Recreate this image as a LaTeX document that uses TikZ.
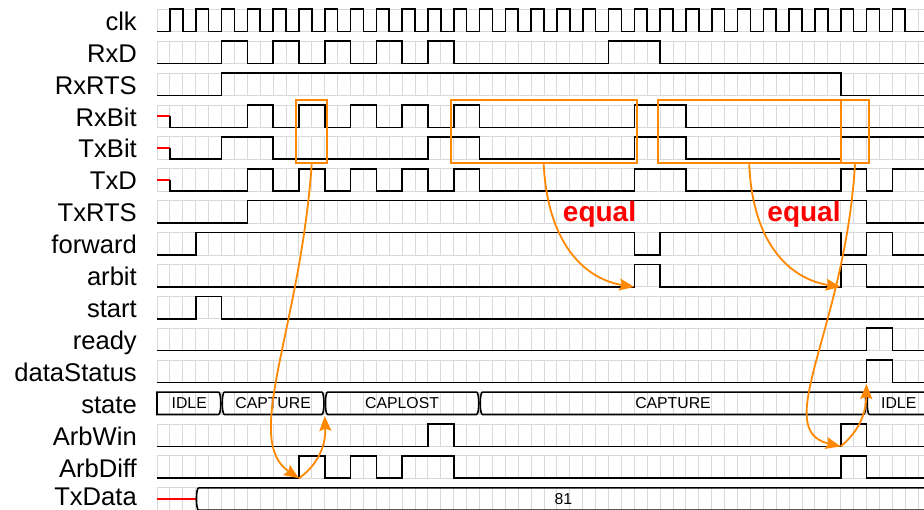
\documentclass[tikz,border=0pt]{standalone}
\usepackage{fontspec}
\setmainfont{Liberation Sans}
\usetikzlibrary{arrows.meta}
\definecolor{hlorange}{RGB}{255,136,0}

\begin{document}
\begin{tikzpicture}[x=1pt, y=-1pt,
  row/.style={shift={(157,{31.7+31.9*#1})}, x=12.9pt, y=22.4pt},
  lbl/.style={anchor=base east, inner sep=0pt, font=\fontsize{25.6}{28}\selectfont},
  gridline/.style={gray!30, line width=0.9pt},
  sig/.style={line width=1.6pt},
  xsig/.style={red, line width=1.6pt},
  bus/.style={line width=1.6pt},
  buslbl/.style={inner sep=0pt, font=\fontsize{15.8}{18}\selectfont},
  hl/.style={draw=hlorange, line width=1.8pt, inner sep=0pt, minimum height=63.3pt},
  arr/.style={hlorange, line width=1.8pt, -{Stealth[length=15pt, width=12pt, inset=2.5pt]}},
  eqlbl/.style={anchor=base, inner sep=0pt, text=red, font=\fontsize{28}{30}\selectfont\bfseries},
]
\useasboundingbox (0,0) rectangle (924,510);
\clip (0,0) rectangle (924,510);

\foreach \r in {0,...,15}{
  \begin{scope}[row=\r]
    \draw[gridline] (0,0) -- (60,0) (0,1) -- (60,1);
    \foreach \s in {0,...,59} \draw[gridline] (\s,0) -- (\s,1);
  \end{scope}
}

\foreach \name [count=\r from 0] in {clk,RxD,RxRTS,RxBit,TxBit,TxD,TxRTS,forward,arbit,start,ready,dataStatus,state,ArbWin,ArbDiff,TxData}
  \node[lbl] (lab-\name) at (137,{30.4+31.9*\r-3*(\r==15)}) {\name};

\begin{scope}[row=0]
  \draw[sig] (0,0) \foreach \i in {1,3,...,57} { -| (\i,1) -| (\i+1,0) } -- (60,0);
\end{scope}
\begin{scope}[row=1]
  \draw[sig] (0,0) -| (5,1) -| (7,0) -| (9,1) -| (11,0) -| (13,1) -| (15,0) -| (17,1) -| (19,0)
    -| (21,1) -| (23,0) -| (35,1) -| (39,0) -- (60,0);
\end{scope}
\begin{scope}[row=2]
  \draw[sig] (0,0) -| (5,1) -| (53,0) -- (60,0);
\end{scope}
\begin{scope}[row=3]
  \draw[xsig] (0,.5) -- (1,.5);
  \draw[sig] (1,.5) -- (1,0) -| (7,1) -| (9,0) -| (11,1) -| (13,0) -| (15,1) -| (17,0) -| (19,1)
    -| (21,0) -| (23,1) -| (25,0) -| (37,1) -| (41,0) -- (60,0);
\end{scope}
\begin{scope}[row=4]
  \draw[xsig] (0,.5) -- (1,.5);
  \draw[sig] (1,.5) -- (1,0) -| (5,1) -| (9,0) -| (21,1) -| (25,0) -| (37,1) -| (41,0) -| (53,1) -- (60,1);
\end{scope}
\begin{scope}[row=5]
  \draw[xsig] (0,.5) -- (1,.5);
  \draw[sig] (1,.5) -- (1,0) -| (7,1) -| (9,0) -| (11,1) -| (13,0) -| (15,1) -| (17,0) -| (19,1)
    -| (21,0) -| (23,1) -| (25,0) -| (37,1) -| (41,0) -| (53,1) -| (55,0) -| (57,1) -- (60,1);
\end{scope}
\begin{scope}[row=6]
  \draw[sig] (0,0) -| (7,1) -| (55,0) -- (60,0);
\end{scope}
\begin{scope}[row=7]
  \draw[sig] (0,0) -| (3,1) -| (37,0) -| (39,1) -| (53,0) -| (55,1) -| (57,0) -- (60,0);
\end{scope}
\begin{scope}[row=8]
  \draw[sig] (0,0) -| (37,1) -| (39,0) -| (53,1) -| (55,0) -- (60,0);
\end{scope}
\begin{scope}[row=9]
  \draw[sig] (0,0) -| (3,1) -| (5,0) -- (60,0);
\end{scope}
\begin{scope}[row=10]
  \draw[sig] (0,0) -| (55,1) -| (57,0) -- (60,0);
\end{scope}
\begin{scope}[row=11]
  \draw[sig] (0,0) -| (55,1) -| (57,0) -- (60,0);
\end{scope}
\begin{scope}[row=12]
  \draw[bus] (0,1) -- (4.77,1) .. controls (5,1) and (5,0) .. (4.77,0) -- (0,0) -- cycle;
  \foreach \a/\b in {5/13,13/25,25/55,55/62}
    \draw[bus] (\a+.23,1) -- (\b-.23,1) .. controls (\b,1) and (\b,0) .. (\b-.23,0)
      -- (\a+.23,0) .. controls (\a,0) and (\a,1) .. cycle;
  \node[buslbl] (st-idle) at (2.5,.5) {IDLE};
  \node[buslbl] (st-cap) at (9,.5) {CAPTURE};
  \node[buslbl] (st-lost) at (19,.5) {CAPLOST};
  \node[buslbl] (st-cap2) at (40,.5) {CAPTURE};
  \node[buslbl] (st-idle2) at (57.5,.5) {IDLE};
\end{scope}
\begin{scope}[row=13]
  \draw[sig] (0,0) -| (21,1) -| (23,0) -| (53,1) -| (55,0) -- (60,0);
\end{scope}
\begin{scope}[row=14]
  \draw[sig] (0,0) -| (11,1) -| (13,0) -| (15,1) -| (17,0) -| (19,1) -| (23,0) -| (53,1) -| (55,0) -- (60,0);
\end{scope}
\begin{scope}[row=15]
  \draw[xsig] (0,.5) -- (3,.5);
  \draw[bus] (3.23,1) -- (62,1) (62,0) -- (3.23,0) .. controls (3,0) and (3,1) .. (3.23,1);
  \node[buslbl] (txdata) at (31.5,.5) {81};
\end{scope}

\node[hl, minimum width=31.3pt] (box1) at (311.7,131.7) {};
\node[hl, minimum width=186pt] (box2) at (543.7,131.7) {};
\node[hl, minimum width=183pt] (box3) at (749.2,131.7) {};
\node[hl, minimum width=28.6pt] (box4) at (855,131.7) {};

\coordinate (diffA) at (298.9,478.3);
\coordinate (stA) at (324.7,416);
\coordinate (arbA) at (634.3,286.9);
\coordinate (arbB) at (840.7,286.9);
\coordinate (winB) at (840.7,446.4);
\coordinate (dsB) at (866.5,384);

\draw[arr] (box1.south) .. controls (300,330) and (242,440) .. (diffA);
\draw[arr] (diffA) .. controls (318,465) and (326,445) .. (stA);
\draw[arr] (box2.south) .. controls (548,250) and (590,280) .. (arbA);
\draw[arr] (box3.south) .. controls (753,250) and (795,280) .. (arbB);
\draw[arr] (box4.south) .. controls (845,330) and (770,430) .. (winB);
\draw[arr] (winB) .. controls (858,432) and (866,415) .. (dsB);

\node[eqlbl] (eq1) at (599.5,221.5) {equal};
\node[eqlbl] (eq2) at (804,221.5) {equal};
\end{tikzpicture}
\end{document}
